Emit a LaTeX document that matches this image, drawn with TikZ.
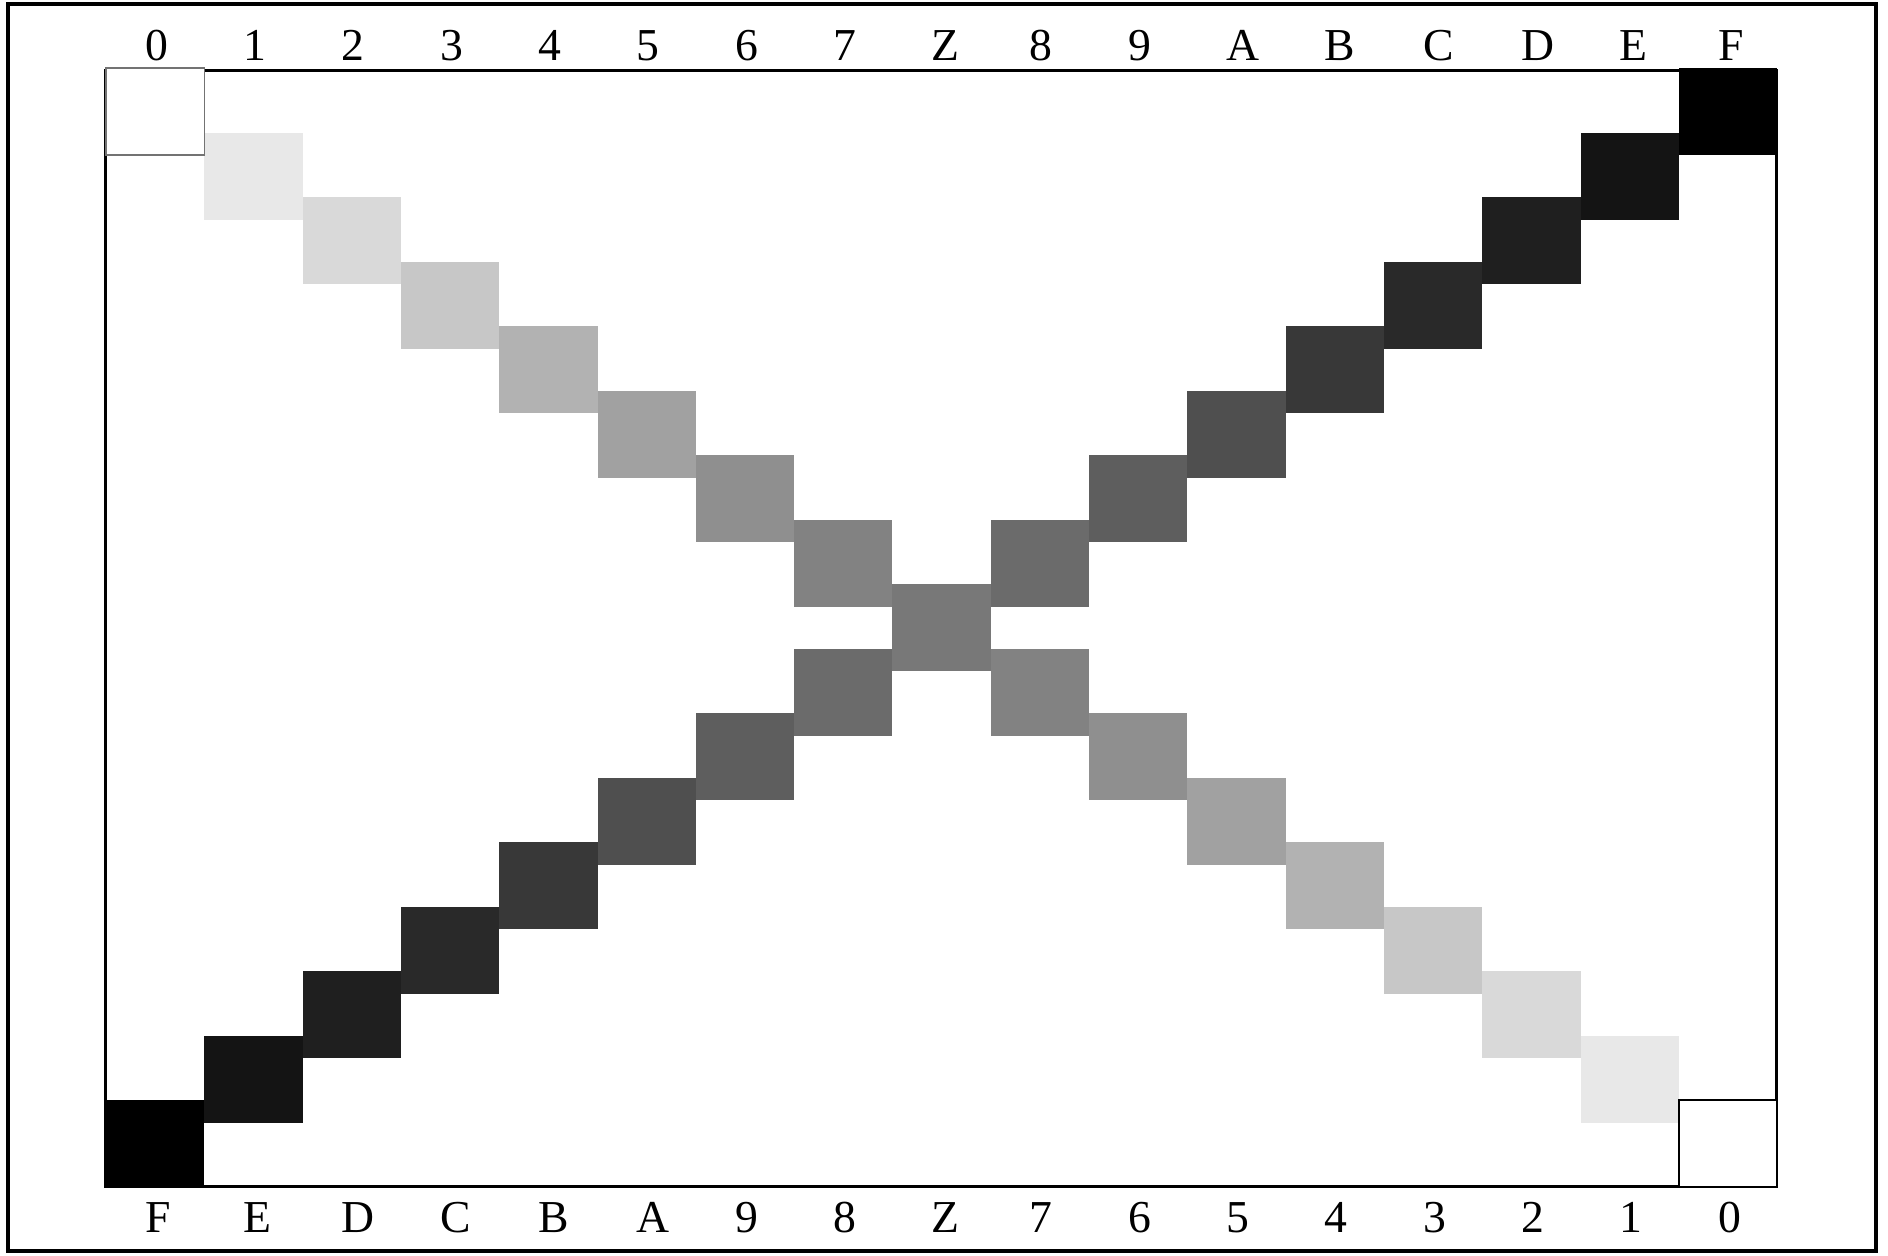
\documentclass[tikz,border=0pt]{standalone}
\usepackage{fontspec}
\setmainfont{Liberation Serif}
\usetikzlibrary{positioning,calc}
\tikzset{
	cell/.style={anchor=north west, inner sep=0pt, outer sep=0pt,
		minimum width=9.83mm, minimum height=8.7mm},
	hexlabel/.style={anchor=base west, inner sep=0pt, font=\fontsize{13}{15}\selectfont},
	frame/.style={draw, line width=1.1pt},
	plate/.style={draw, line width=0.85pt}
}

\begin{document}
\begin{tikzpicture}
	\useasboundingbox (0,0) rectangle (18.88,-12.55);
	
	%% ── Outer frame and plate ───────────────────────────────────────
	\draw[frame] (0.08,-0.04) rectangle (18.76,-12.51);
	\draw[plate] (1.055,-0.705) rectangle (17.765,-11.865);
	
	%% ── Labels and the two diagonals ────────────────────────────────
	\foreach \c/\tl/\bl/\dsh/\ash in {0/0/F/0/100, 1/1/E/9/92, 2/2/D/15/88,
		3/3/C/22/84, 4/4/B/30/78, 5/5/A/37/69, 6/6/9/44/63, 7/7/8/49/58,
		8/Z/Z/53/53, 9/8/7/49/58, 10/9/6/44/63, 11/A/5/37/69, 12/B/4/30/78,
		13/C/3/22/84, 14/D/2/15/88, 15/E/1/9/92, 16/F/0/0/100}
	{
		\node[hexlabel] (top\c) at ({1.06+\c*0.983+0.385}, -0.605) {\tl};
		\node[hexlabel] (bot\c) at ({1.06+\c*0.983+0.385}, -12.325) {\bl};
		% falling diagonal
		\node[cell, fill=black!\dsh] (dsq\c) at ({1.06+\c*0.983}, {-0.68-\c*0.645}) {};
		% rising diagonal (centre square shared)
		\ifnum\c=8\else
		\node[cell, fill=black!\ash] (asq\c) at ({1.06+\c*0.983}, {-0.68-(16-\c)*0.645}) {};
		\fi
	}
	
	%% ── Outlines of the white corner squares ────────────────────────
	\draw[black!55, line width=0.35pt] (dsq0.north west) rectangle (dsq0.south east);
	\draw[line width=0.4pt] (dsq16.north west) rectangle (dsq16.south east);
\end{tikzpicture}
\end{document}
